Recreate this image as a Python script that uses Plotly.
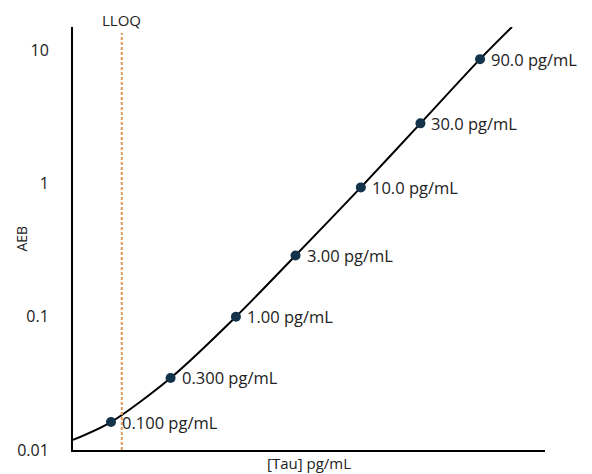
import math
import plotly.graph_objects as go

# Calibrator concentrations (pg/mL) and AEB signal
conc = [0.1, 0.3, 1.0, 3.0, 10.0, 30.0, 90.0]
aeb = [0.0162, 0.0347, 0.100, 0.288, 0.933, 2.82, 8.55]
labels = ["0.100 pg/mL", "0.300 pg/mL", "1.00 pg/mL", "3.00 pg/mL",
          "10.0 pg/mL", "30.0 pg/mL", "90.0 pg/mL"]

# Fitted curve
curve_x = [0.0497, 0.1, 0.3, 1.0, 3.0, 10.0, 30.0, 90.0, 162.0]
curve_y = [0.0119, 0.0162, 0.0347, 0.100, 0.288, 0.933, 2.82, 8.55, 14.9]

y_ticks = [0.01, 0.1, 1, 10]
y_tick_text = ["0.01", "0.1", "1", "10"]

lloq = 0.122

FONT = "Open Sans"
TXT = "#222222"

fig = go.Figure()
fig.add_trace(go.Scatter(x=curve_x, y=curve_y, mode="lines",
                         line=dict(color="black", width=2, shape="spline", smoothing=0.8),
                         hoverinfo="skip", showlegend=False, cliponaxis=False))
fig.add_trace(go.Scatter(x=conc, y=aeb, mode="markers",
                         marker=dict(color="#12334a", size=10),
                         showlegend=False, cliponaxis=False))

for cx, cy, lab in zip(conc, aeb, labels):
    fig.add_annotation(x=math.log10(cx), y=math.log10(cy), xref="x", yref="y",
                       text=lab, showarrow=False, xanchor="left", yanchor="middle",
                       xshift=9, font=dict(family=FONT, size=16.5, color=TXT))

fig.add_shape(type="line", xref="x", yref="paper", x0=lloq, x1=lloq, y0=0, y1=0.986,
              line=dict(color="#dc9a5c", width=2, dash="3px,2px"))
fig.add_annotation(x=math.log10(lloq), y=1.0165, xref="x", yref="paper",
                   yanchor="middle", text="LLOQ", showarrow=False,
                   font=dict(family=FONT, size=15, color=TXT))

fig.add_annotation(x=-0.11, y=0.5, xref="paper", yref="paper", text="AEB",
                   textangle=-90, showarrow=False, xanchor="center", yanchor="middle",
                   font=dict(family=FONT, size=14, color=TXT))
fig.add_annotation(x=0.5, y=-0.002, xref="paper", yref="paper", text="[Tau] pg/mL",
                   showarrow=False, xanchor="center", yanchor="top",
                   font=dict(family=FONT, size=15, color=TXT))

fig.update_layout(
    width=592, height=474,
    margin=dict(l=73, r=47, t=27, b=24),
    plot_bgcolor="white", paper_bgcolor="white",
    font=dict(family=FONT, size=15, color=TXT),
)
fig.update_xaxes(type="log", range=[-1.304, 2.474], showline=True, linecolor="black",
                 linewidth=2, showgrid=False, zeroline=False, showticklabels=False,
                 ticks="", automargin=False)
fig.update_yaxes(type="log", range=[-2, 1.173], showline=True, linecolor="black",
                 linewidth=2, showgrid=False, zeroline=False, ticks="",
                 tickvals=y_ticks, ticktext=y_tick_text,
                 ticklabelstandoff=19, automargin=False,
                 tickfont=dict(family=FONT, size=16, color=TXT))

fig.write_html("out.html")
